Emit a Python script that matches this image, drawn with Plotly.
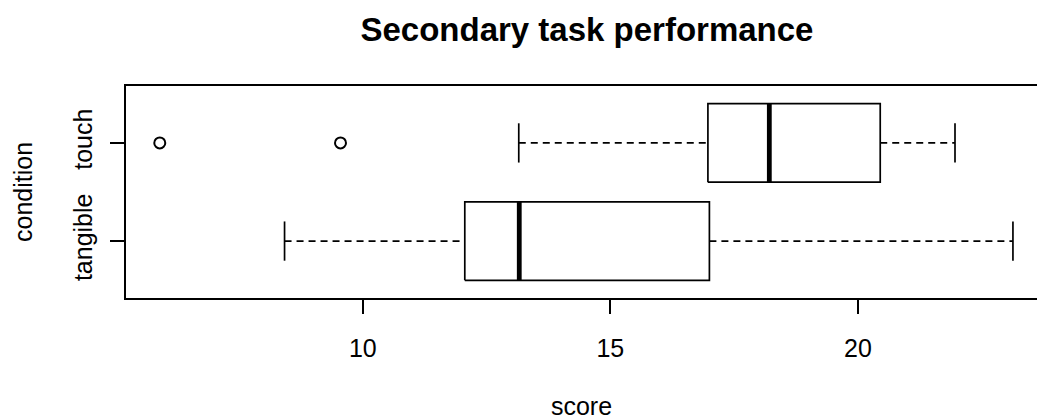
import plotly.graph_objects as go

# ---- data ----
categories = ["tangible", "touch"]
q1 = [12.06, 16.97]
medians = [13.16, 18.21]
q3 = [17.00, 20.45]
lower_whisker = [8.42, 13.15]
upper_whisker = [23.13, 21.96]
outliers = [[], [5.90, 9.55]]
x_ticks = [10, 15, 20]

title_text = "Secondary task performance"
x_title = "score"
y_title = "condition"

FONT = "Liberation Sans, Arial, Helvetica, sans-serif"
BOX_HALF = 0.4
STAPLE_HALF = 0.2
LW = 1.7

fig = go.Figure()
for i, cat in enumerate(categories):
    yc = i + 1
    # dashed whiskers
    fig.add_trace(go.Scatter(
        x=[lower_whisker[i], q1[i], None, q3[i], upper_whisker[i]],
        y=[yc, yc, None, yc, yc], mode="lines",
        line=dict(color="black", width=LW, dash="7px,5px"),
        hoverinfo="skip", showlegend=False))
    # staples
    fig.add_trace(go.Scatter(
        x=[lower_whisker[i], lower_whisker[i], None, upper_whisker[i], upper_whisker[i]],
        y=[yc - STAPLE_HALF, yc + STAPLE_HALF, None, yc - STAPLE_HALF, yc + STAPLE_HALF],
        mode="lines", line=dict(color="black", width=LW),
        hoverinfo="skip", showlegend=False))
    # box
    fig.add_trace(go.Scatter(
        x=[q1[i], q3[i], q3[i], q1[i], q1[i]],
        y=[yc - BOX_HALF, yc - BOX_HALF, yc + BOX_HALF, yc + BOX_HALF, yc - BOX_HALF],
        mode="lines", fill="toself", fillcolor="white",
        line=dict(color="black", width=LW),
        name=cat, showlegend=False))
    # median
    fig.add_trace(go.Scatter(
        x=[medians[i], medians[i]], y=[yc - BOX_HALF, yc + BOX_HALF],
        mode="lines", line=dict(color="black", width=4.8),
        hoverinfo="skip", showlegend=False))
    # outliers
    if outliers[i]:
        fig.add_trace(go.Scatter(
            x=outliers[i], y=[yc] * len(outliers[i]), mode="markers",
            marker=dict(symbol="circle-open", size=11, color="black",
                        line=dict(width=2, color="black")),
            showlegend=False))

fig.update_layout(
    width=1037, height=420,
    margin=dict(l=126, r=0, t=86, b=120),
    paper_bgcolor="white", plot_bgcolor="white",
    font=dict(family=FONT, size=25, color="black"),
    title=dict(text="<b>" + title_text + "</b>", font=dict(size=33, family=FONT),
               x=0.506, xanchor="center", xref="paper",
               y=1 - 29 / 420, yanchor="middle", yref="container"),
    xaxis=dict(range=[5.218, 23.616], tickvals=x_ticks,
               ticktext=[str(v) for v in x_ticks],
               tickfont=dict(size=25, family=FONT, color="black"),
               ticklabelstandoff=13,
               showline=True, linecolor="black", linewidth=LW, mirror=True,
               ticks="outside", ticklen=14, tickwidth=LW, tickcolor="black",
               showgrid=False, zeroline=False,
               title=dict(text=x_title, standoff=41,
                          font=dict(size=25, family=FONT, color="black"))),
    yaxis=dict(range=[0.42, 2.58], tickvals=[i + 1 for i in range(len(categories))],
               ticktext=categories, tickangle=-90,
               tickfont=dict(size=25, family=FONT, color="black"),
               ticklabelstandoff=8,
               showline=True, linecolor="black", linewidth=LW, mirror=False,
               ticks="outside", ticklen=14, tickwidth=LW, tickcolor="black",
               showgrid=False, zeroline=False,
               title=dict(text=y_title, standoff=29,
                          font=dict(size=25, family=FONT, color="black"))),
)

fig.write_html("out.html", config={"displayModeBar": False},
               post_script="document.body.style.margin='0';document.body.style.padding='0';")
